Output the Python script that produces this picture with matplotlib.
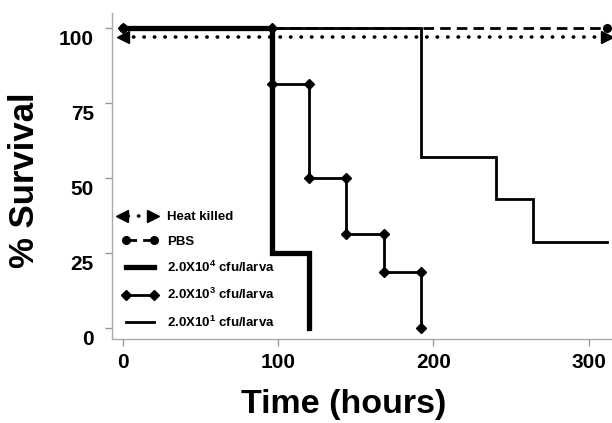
import matplotlib
matplotlib.use("Agg")
import matplotlib.pyplot as plt
import matplotlib.transforms as mtransforms
from matplotlib.lines import Line2D
from matplotlib.legend_handler import HandlerBase

plt.rcParams["font.family"] = ["Liberation Sans", "DejaVu Sans"]
plt.rcParams["font.weight"] = "bold"
plt.rcParams["mathtext.fontset"] = "custom"
plt.rcParams["mathtext.rm"] = "Liberation Sans:bold"
plt.rcParams["mathtext.default"] = "rm"

# Kaplan-Meier style step data (time in hours, % survival)
heat_t = [0, 312]
heat_s = [97, 97]

pbs_t = [0, 312]
pbs_s = [100, 100]

hi_t = [0, 96, 96, 120, 120]
hi_s = [100, 100, 25, 25, 0]

mid_t = [0, 96, 96, 120, 120, 144, 144, 168, 168, 192, 192]
mid_s = [100, 100, 81.25, 81.25, 50, 50, 31.25, 31.25, 18.75, 18.75, 0]

lo_t = [0, 192, 192, 240, 240, 264, 264, 312]
lo_s = [100, 100, 57.1, 57.1, 42.9, 42.9, 28.6, 28.6]

labels = ["Heat killed", "PBS", "2.0X10$^4$ cfu/larva",
          "2.0X10$^3$ cfu/larva", "2.0X10$^1$ cfu/larva"]
xticks = [0, 100, 200, 300]
yticks = [0, 25, 50, 75, 100]


class ArrowHandler(HandlerBase):
    # dotted line with an arrow head at each end, as in the plot
    def create_artists(self, legend, orig_handle, xdescent, ydescent,
                       width, height, fontsize, trans):
        y = height / 2 - ydescent
        x0, x1 = -xdescent - 4, width - xdescent + 1
        line = Line2D([x0 + 8, x1 - 8], [y, y], ls=(0, (0.1, 2.8)), lw=2.6,
                      color="black", dash_capstyle="round")
        left = Line2D([x0 + 4], [y], marker="<", ms=9, color="black", ls="none")
        right = Line2D([x1 - 4], [y], marker=">", ms=9, color="black", ls="none")
        for a in (line, left, right):
            a.set_transform(trans)
        return [line, left, right]


fig = plt.figure(figsize=(6.12, 4.23), dpi=100)
ax = fig.add_axes([112 / 612, 84 / 423, 500 / 612, 326 / 423])

dot = (0, (0.1, 2.8))
ax.plot(heat_t, heat_s, color="black", lw=2.6, ls=dot, dash_capstyle="round", zorder=3)
ax.plot(heat_t[:1], heat_s[:1], marker="<", ms=8, color="black", ls="none", zorder=4)
ax.plot(heat_t[-1:], heat_s[-1:], marker=">", ms=8, color="black", ls="none", zorder=4)

pbs_line, = ax.plot(pbs_t, pbs_s, color="black", lw=2.0, ls=(0, (3.8, 2.2)),
                    marker="o", ms=5.5, zorder=3)
hi_line, = ax.plot(hi_t, hi_s, color="black", lw=3.8, solid_joinstyle="miter", zorder=5)
mid_line, = ax.plot(mid_t, mid_s, color="black", lw=2.0, marker="D", ms=5,
                    solid_joinstyle="miter", zorder=4)
lo_line, = ax.plot(lo_t, lo_s, color="black", lw=2.0, solid_joinstyle="miter", zorder=4)

ax.set_xlim(-7, 315)
ax.set_ylim(-3.7, 105)
ax.set_xticks(xticks)
ax.set_yticks(yticks)
ax.tick_params(axis="both", direction="out", length=5, width=1, color="#999999",
               labelsize=15)
ax.tick_params(axis="y", pad=8)
ax.tick_params(axis="x", pad=5)
for lab in ax.get_yticklabels():
    lab.set_transform(lab.get_transform() +
                      mtransforms.ScaledTranslation(0, -0.10, fig.dpi_scale_trans))
for lab in ax.get_xticklabels() + ax.get_yticklabels():
    lab.set_fontweight("bold")

for side in ("top", "right"):
    ax.spines[side].set_visible(False)
for side in ("left", "bottom"):
    ax.spines[side].set_color("#aaaaaa")
    ax.spines[side].set_linewidth(1)

ax.set_xlabel("Time (hours)", fontsize=24.5, fontweight="bold")
ax.xaxis.set_label_coords((344 - 112) / 500, -(404 - 339) / 326)
ax.xaxis.label.set_va("center")
ax.set_ylabel("% Survival", fontsize=25, fontweight="bold")
ax.yaxis.set_label_coords(-(112 - 25) / 500, (339 - 180) / 326)
ax.yaxis.label.set_va("center")

heat_handle = Line2D([], [], color="black")
leg = ax.legend([heat_handle, pbs_line, hi_line, mid_line, lo_line], labels,
                handler_map={heat_handle: ArrowHandler()},
                loc="upper left", bbox_to_anchor=(122 / 612, 1 - 211 / 423),
                bbox_transform=fig.transFigure, frameon=False, fontsize=9.5,
                numpoints=2, handlelength=2.7, handletextpad=0.7,
                labelspacing=0.92, borderpad=0, borderaxespad=0)
for t in leg.get_texts():
    t.set_fontweight("bold")

fig.savefig("out.png", dpi=100)
